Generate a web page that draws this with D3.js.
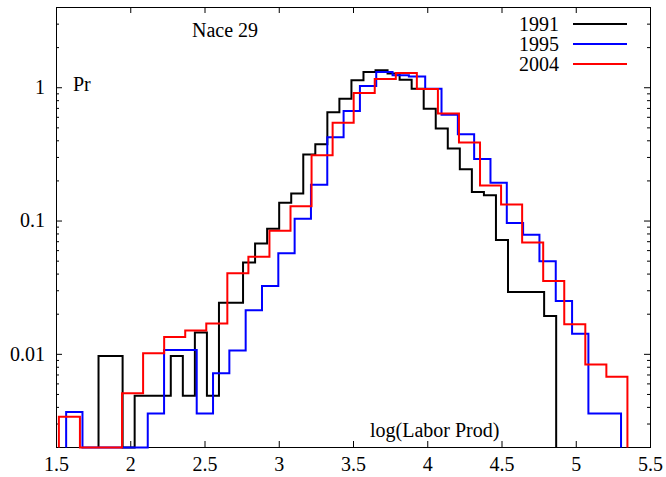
<!DOCTYPE html>
<html>
<head>
<meta charset="utf-8">
<script src="https://cdn.jsdelivr.net/npm/d3@7"></script>
<style>
  body { margin: 0; background: #fff; }
  svg text { font-family: "Liberation Serif", "DejaVu Serif", serif; }
</style>
</head>
<body>
<div id="chart"></div>
<script>
// histogram of log(labor productivity), Nace 29, three years
var years = ["1991", "1995", "2004"];
var binStart = [1.783, 1.565, 1.516];
var binWidth = [0.0811, 0.1099, 0.1418];

var pr1991 = [0.0097, 0.0097, 0, 0.0049, 0.0049, 0.0049, 0.0097, 0.0049, 0.0146, 0.0049,
              0.0244, 0.0244, 0.0488, 0.0677, 0.0877, 0.137, 0.161, 0.316, 0.376, 0.656,
              0.827, 1.14, 1.31, 1.355, 1.28, 1.15, 0.983, 0.697, 0.494, 0.350,
              0.245, 0.165, 0.156, 0.072, 0.0294, 0.0294, 0.0294, 0.0194];
var pr1995 = [0.0037, 0, 0, 0, 0, 0.0036, 0.0108, 0.0108, 0.0036, 0.0072,
              0.0107, 0.0214, 0.0325, 0.0573, 0.104, 0.187, 0.425, 0.668, 1.03, 1.31,
              1.24, 1.215, 0.983, 0.627, 0.447, 0.292, 0.194, 0.0965, 0.079, 0.0499,
              0.0251, 0.0143, 0.0036, 0.0036];
var pr2004 = [0.0034, 0, 0, 0.0051, 0.0102, 0.0135, 0.0151, 0.017, 0.0405, 0.054,
              0.0847, 0.129, 0.311, 0.547, 0.912, 1.165, 1.29, 0.978, 0.64, 0.388,
              0.185, 0.133, 0.069, 0.0355, 0.0168, 0.0084, 0.0068];

var xTicks = [1.5, 2, 2.5, 3, 3.5, 4, 4.5, 5, 5.5];
var yTicks = [0.01, 0.1, 1];
var yMinor = [0.003, 0.004, 0.005, 0.006, 0.007, 0.008, 0.009,
              0.02, 0.03, 0.04, 0.05, 0.06, 0.07, 0.08, 0.09,
              0.2, 0.3, 0.4, 0.5, 0.6, 0.7, 0.8, 0.9, 2, 3];

var series = [pr1991, pr1995, pr2004];
var colors = ["#000000", "#0000ff", "#ff0000"];

// plot area
var margin = {top: 7, left: 56}
  , width = 594
  , height = 440;

var x = d3.scaleLinear().domain([1.5, 5.5]).range([0, width]);
var y = d3.scaleLog().domain([0.002, 4]).range([height, 0]).clamp(true);

var svg = d3.select("#chart")
  .append("svg")
  .attr("width", 666)
  .attr("height", 477);

var main = svg.append("g")
  .attr("transform", "translate(" + margin.left + "," + margin.top + ")");

// frame
main.append("rect")
  .attr("x", 0.5).attr("y", 0.5)
  .attr("width", width).attr("height", height)
  .attr("fill", "none")
  .attr("stroke", "#000")
  .attr("stroke-width", 1);

function styleAxis(g) {
  g.select(".domain").remove();
  g.selectAll("line").attr("stroke", "#000");
  g.selectAll("text").attr("fill", "#000").style("font-size", "20px")
    .style("font-family", '"Liberation Serif", serif');
}

// bottom and top x ticks
main.append("g")
  .attr("transform", "translate(0," + height + ")")
  .call(d3.axisBottom(x).tickValues(xTicks).tickFormat(function(d) { return d; })
    .tickSizeInner(-6).tickSizeOuter(0).tickPadding(10))
  .call(styleAxis);
main.append("g")
  .call(d3.axisTop(x).tickValues(xTicks).tickFormat("")
    .tickSizeInner(-6).tickSizeOuter(0))
  .call(styleAxis);

// left and right y ticks, major + minor
main.append("g")
  .call(d3.axisLeft(y).tickValues(yTicks).tickFormat(function(d) { return d; })
    .tickSizeInner(-6).tickSizeOuter(0).tickPadding(11))
  .call(styleAxis);
main.append("g")
  .call(d3.axisLeft(y).tickValues(yMinor).tickFormat("")
    .tickSizeInner(-3).tickSizeOuter(0))
  .call(styleAxis);
main.append("g")
  .attr("transform", "translate(" + width + ",0)")
  .call(d3.axisRight(y).tickValues(yTicks).tickFormat("")
    .tickSizeInner(-6).tickSizeOuter(0))
  .call(styleAxis);
main.append("g")
  .attr("transform", "translate(" + width + ",0)")
  .call(d3.axisRight(y).tickValues(yMinor).tickFormat("")
    .tickSizeInner(-3).tickSizeOuter(0))
  .call(styleAxis);

// step outline of each histogram
var line = d3.line()
  .x(function(d) { return x(d[0]) + 0.5; })
  .y(function(d) { return y(d[1]) + 0.5; });

series.forEach(function(vals, s) {
  var pts = [[binStart[s], 0]];
  vals.forEach(function(v, i) {
    pts.push([binStart[s] + i * binWidth[s], v]);
    pts.push([binStart[s] + (i + 1) * binWidth[s], v]);
  });
  pts.push([binStart[s] + vals.length * binWidth[s], 0]);

  main.append("path")
    .datum(pts)
    .attr("fill", "none")
    .attr("stroke", colors[s])
    .attr("stroke-width", 2)
    .attr("d", line);
});

// legend
var legend = svg.append("g");
years.forEach(function(yr, i) {
  var ly = 24 + i * 20;
  legend.append("text")
    .attr("x", 559).attr("y", ly + 7)
    .attr("text-anchor", "end")
    .style("font-size", "20px")
    .text(yr);
  legend.append("line")
    .attr("x1", 573).attr("x2", 627)
    .attr("y1", ly).attr("y2", ly)
    .attr("stroke", colors[i])
    .attr("stroke-width", 2);
});

// labels inside the plot
svg.append("text").attr("x", 192).attr("y", 37).style("font-size", "20px").text("Nace 29");
svg.append("text").attr("x", 73).attr("y", 91).style("font-size", "20px").text("Pr");
svg.append("text").attr("x", 370).attr("y", 437).style("font-size", "20px").text("log(Labor Prod)");
</script>
</body>
</html>
